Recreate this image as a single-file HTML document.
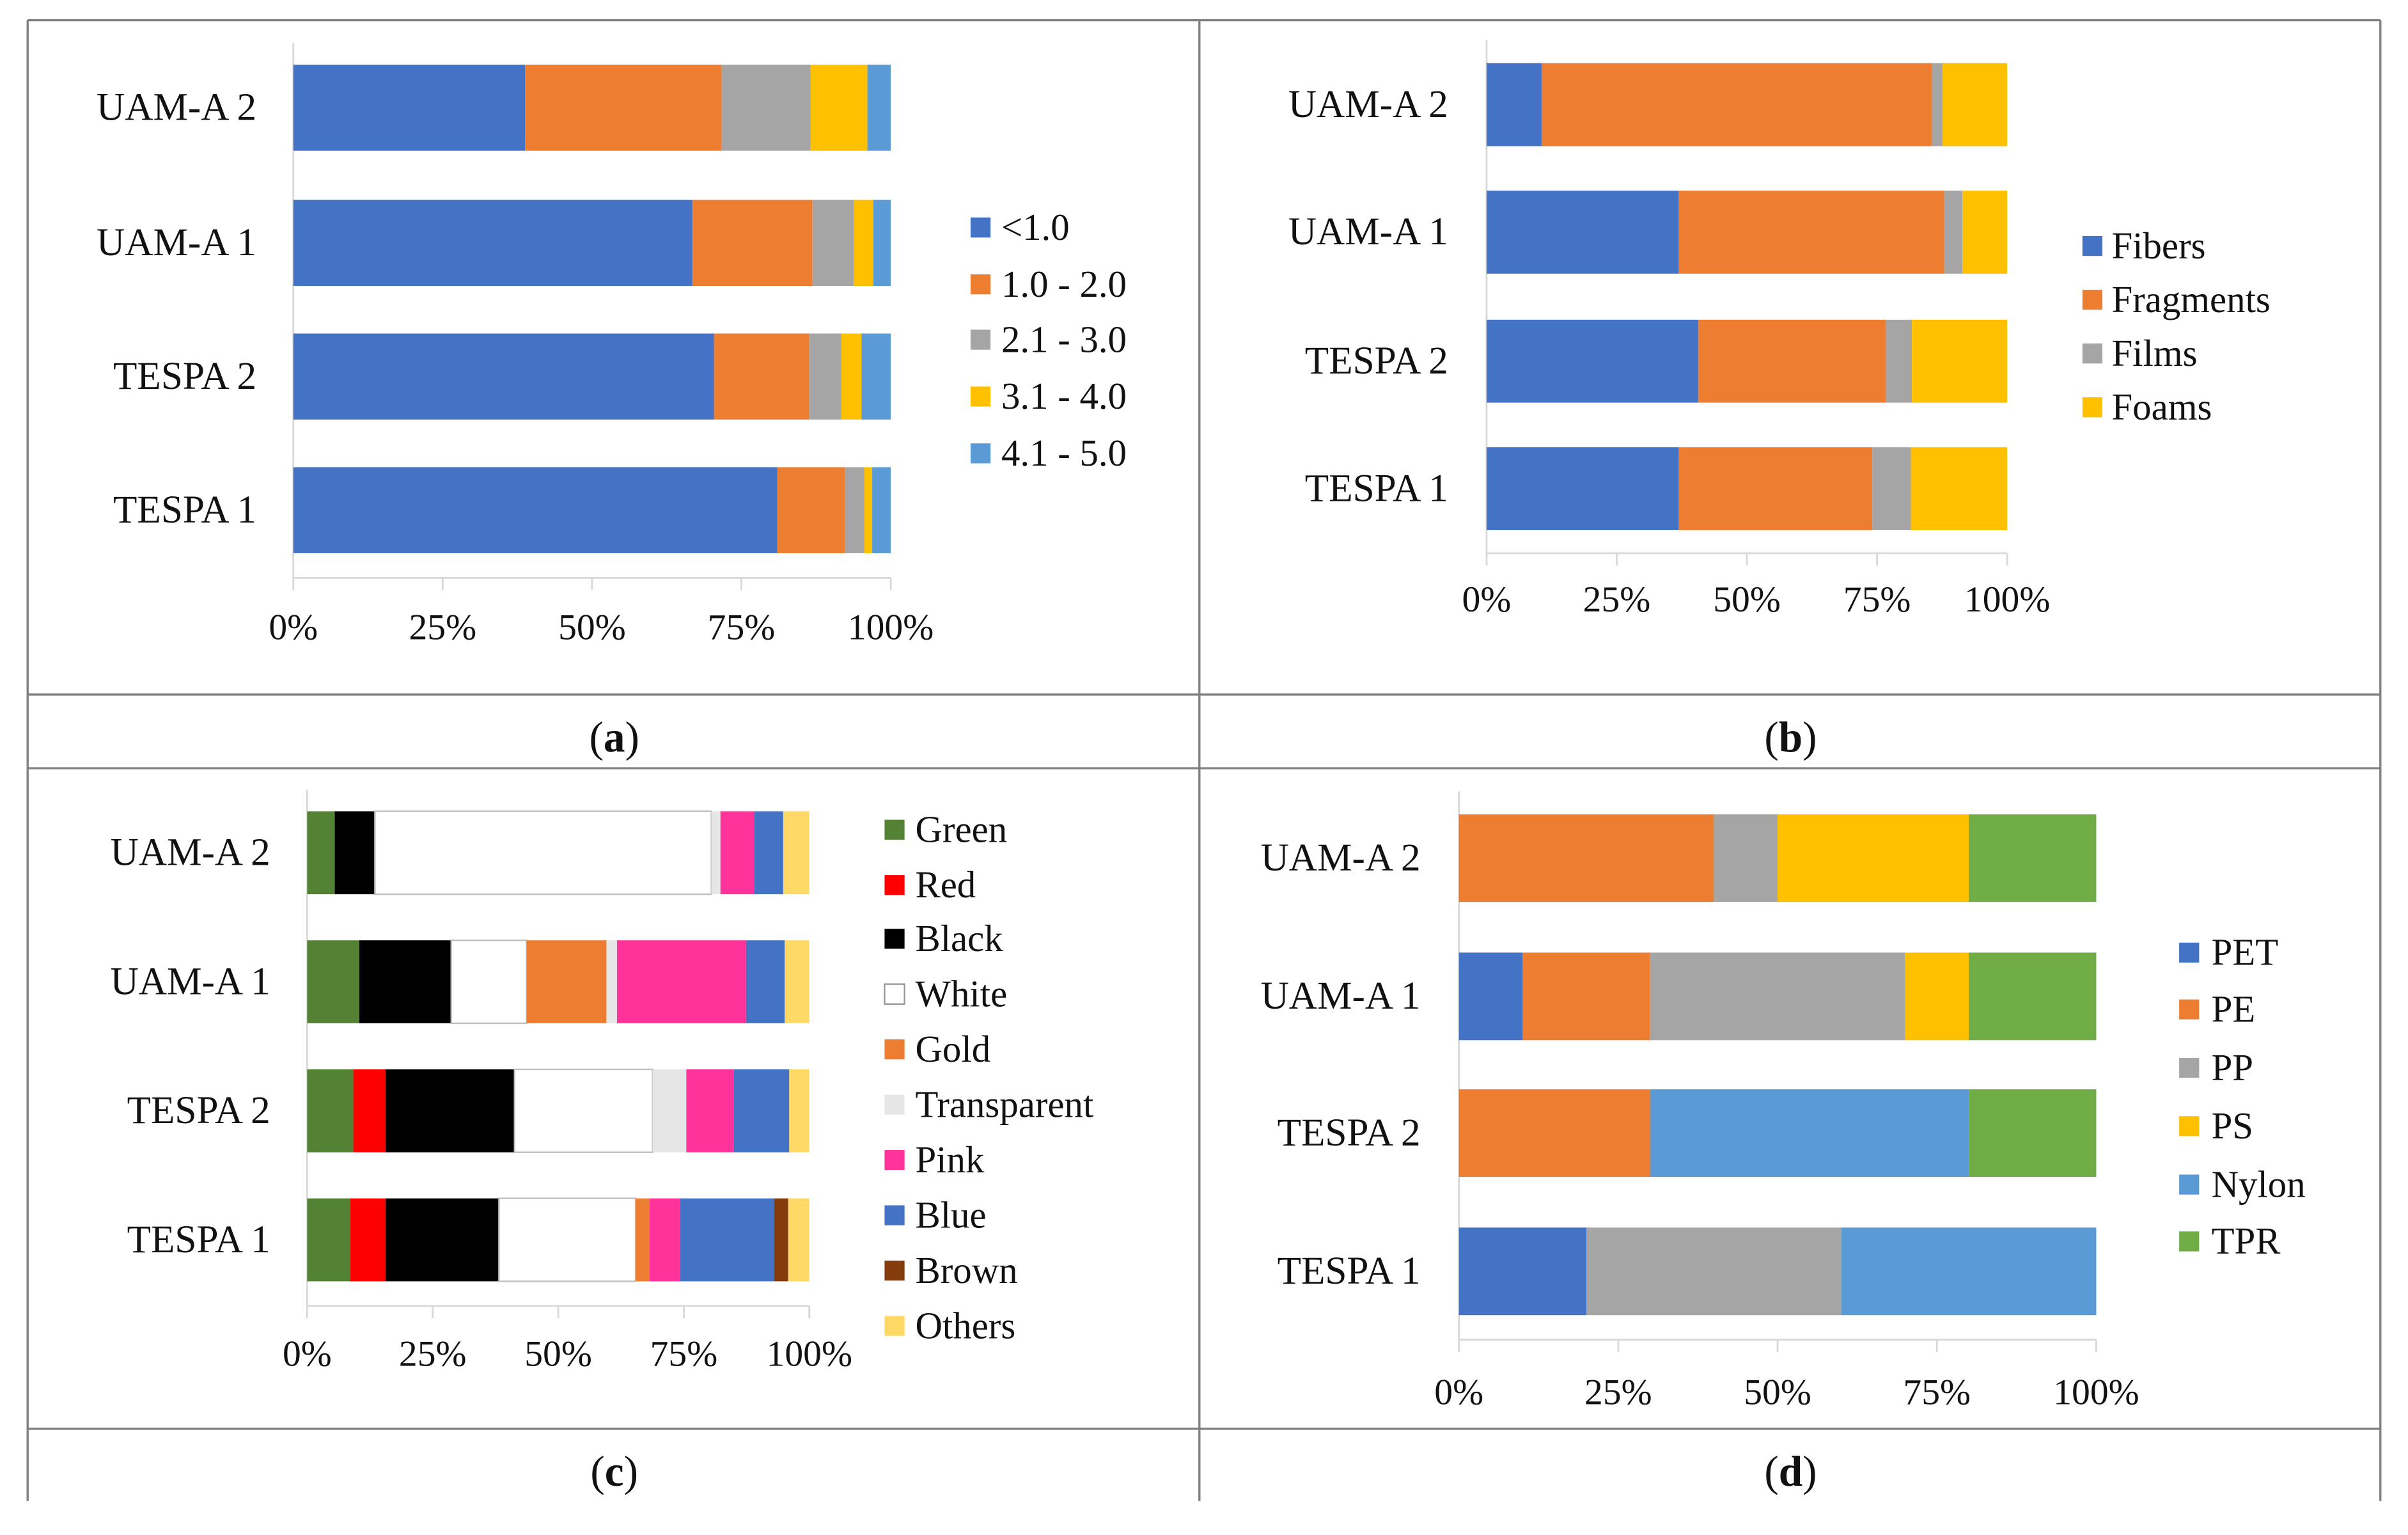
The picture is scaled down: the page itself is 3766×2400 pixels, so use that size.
<!DOCTYPE html>
<html><head><meta charset="utf-8"><style>
html,body{margin:0;padding:0;background:#fff;}
svg{display:block;}
text{font-family:"Liberation Serif",serif;fill:#111;}
</style></head><body>
<svg id="fig" width="3766" height="2400" viewBox="0 0 1568 999" xmlns="http://www.w3.org/2000/svg">
<g id="frame" stroke="#808080" stroke-width="1.4" fill="none">
<line x1="18" y1="13" x2="1550" y2="13"/>
<line x1="18" y1="452" x2="1550" y2="452"/>
<line x1="18" y1="500" x2="1550" y2="500"/>
<line x1="18" y1="930" x2="1550" y2="930"/>
<line x1="18" y1="13" x2="18" y2="977"/>
<line x1="781" y1="13" x2="781" y2="977"/>
<line x1="1550" y1="13" x2="1550" y2="977"/>
</g>
<text x="400" y="489" font-size="28" text-anchor="middle">(<tspan font-weight="bold">a</tspan>)</text>
<text x="1166" y="489" font-size="28" text-anchor="middle">(<tspan font-weight="bold">b</tspan>)</text>
<text x="400" y="967" font-size="28" text-anchor="middle">(<tspan font-weight="bold">c</tspan>)</text>
<text x="1166" y="967" font-size="28" text-anchor="middle">(<tspan font-weight="bold">d</tspan>)</text>
</svg>
<script>
const categories = ["UAM-A 2","UAM-A 1","TESPA 2","TESPA 1"];
const tickLabels = ["0%","25%","50%","75%","100%"];
const tickValues = [0,25,50,75,100];

const seriesA = ["<1.0","1.0 - 2.0","2.1 - 3.0","3.1 - 4.0","4.1 - 5.0"];
const valuesA = [[38.8,32.9,14.9,9.5,3.9],[66.8,20.1,6.9,3.3,2.9],[70.4,15.9,5.4,3.4,4.9],[81.0,11.3,3.3,1.3,3.1]];

const seriesB = ["Fibers","Fragments","Films","Foams"];
const valuesB = [[10.6,74.9,2.1,12.4],[36.9,51.0,3.5,8.6],[40.7,36.0,5.0,18.3],[36.9,37.2,7.4,18.5]];

const seriesC = ["Green","Red","Black","White","Gold","Transparent","Pink","Blue","Brown","Others"];
const valuesC = [[5.5,0,8.0,67.0,0,1.8,6.7,5.8,0,5.2],[10.4,0,18.3,15.0,15.9,2.1,25.7,7.7,0,4.9],[9.2,6.4,25.7,27.5,0,6.7,9.5,11.0,0,4.0],[8.6,7.0,22.6,27.2,2.8,0,6.1,18.7,2.8,4.2]];

const seriesD = ["PET","PE","PP","PS","Nylon","TPR"];
const valuesD = [[0,40,10,30,0,20],[10,20,40,10,0,20],[0,30,0,0,50,20],[20,0,40,0,40,0]];

const NS="http://www.w3.org/2000/svg";
const svg=document.getElementById('fig');
function mk(tag,attrs,parent){const e=document.createElementNS(NS,tag);for(const k in attrs)e.setAttribute(k,attrs[k]);(parent||svg).appendChild(e);return e;}

const panels=[
 {id:'a',series:seriesA,values:valuesA,colors:["#4472C4","#ED7D31","#A5A5A5","#FFC000","#5B9BD5"],
  x0:191,x1:580,barTop:[42,130,217,304],barH:56,axTop:28,axY:376,tickY:416,labelR:167,
  legX:632,legTextX:652,legY:[148,185,221,258,295]},
 {id:'b',series:seriesB,values:valuesB,colors:["#4472C4","#ED7D31","#A5A5A5","#FFC000"],
  x0:968,x1:1307,barTop:[41,124,208,291],barH:54,axTop:26,axY:360,tickY:398,labelR:943,
  legX:1356,legTextX:1375,legY:[160,195,230,265]},
 {id:'c',series:seriesC,values:valuesC,colors:["#548235","#FF0000","#000000","#FFFFFF","#ED7D31","#E7E6E6","#FF3399","#4472C4","#843C0C","#FFD966"],
  x0:200,x1:527,barTop:[528,612,696,780],barH:54,axTop:514,axY:850,tickY:889,labelR:176,
  legX:576,legTextX:596,legY:[540,576,611,647,683,719,755,791,827,863]},
 {id:'d',series:seriesD,values:valuesD,colors:["#4472C4","#ED7D31","#A5A5A5","#FFC000","#5B9BD5","#70AD47"],
  x0:950,x1:1365,barTop:[530,620,709,799],barH:57,axTop:515,axY:872,tickY:914,labelR:925,
  legX:1419,legTextX:1440,legY:[620,657,695,733,771,808]}
];

panels.forEach(p=>{
  const g=mk('g',{});
  
  
  const xs=v=>p.x0+(p.x1-p.x0)*v/100;
  const ax=mk('line',{x1:p.x0,y1:p.axTop,x2:p.x0,y2:p.axY,stroke:'#D9D9D9','stroke-width':1.2},g);
  
  
  const bx=mk('line',{x1:p.x0,y1:p.axY,x2:p.x1,y2:p.axY,stroke:'#D9D9D9','stroke-width':1.2},g);
  
  
  tickValues.forEach((t,i)=>{
    const tk=mk('line',{x1:xs(t),y1:p.axY,x2:xs(t),y2:p.axY+8,stroke:'#D9D9D9','stroke-width':1.2},g);
    
    
    const tl=mk('text',{x:xs(t),y:p.tickY,'font-size':24,'text-anchor':'middle'},g);
    tl.textContent=tickLabels[i];
    
    
  });
  categories.forEach((c,ci)=>{
    const y=p.barTop[ci];
    const cl=mk('text',{x:p.labelR,y:y+p.barH/2+8,'font-size':25.5,'text-anchor':'end'},g);
    cl.textContent=c;
    
    
    let acc=0;
    p.values[ci].forEach((v,si)=>{
      if(v<=0){return;}
      const r=mk('rect',{x:xs(acc),y:y,width:xs(acc+v)-xs(acc),height:p.barH,fill:p.colors[si]},g);
      if(p.colors[si]==='#FFFFFF'){r.setAttribute('stroke','#BFBFBF');r.setAttribute('stroke-width','1');}
      
      
      acc+=v;
    });
  });
  p.series.forEach((s,si)=>{
    const y=p.legY[si];
    const sq=mk('rect',{x:p.legX,y:y-6.5,width:13,height:13,fill:p.colors[si]},g);
    if(p.colors[si]==='#FFFFFF'){sq.setAttribute('stroke','#999');sq.setAttribute('stroke-width','1');}
    
    
    const lt=mk('text',{x:p.legTextX,y:y+8,'font-size':24.5},g);
    lt.textContent=s;
    
    
  });
});
</script>
</body></html>
